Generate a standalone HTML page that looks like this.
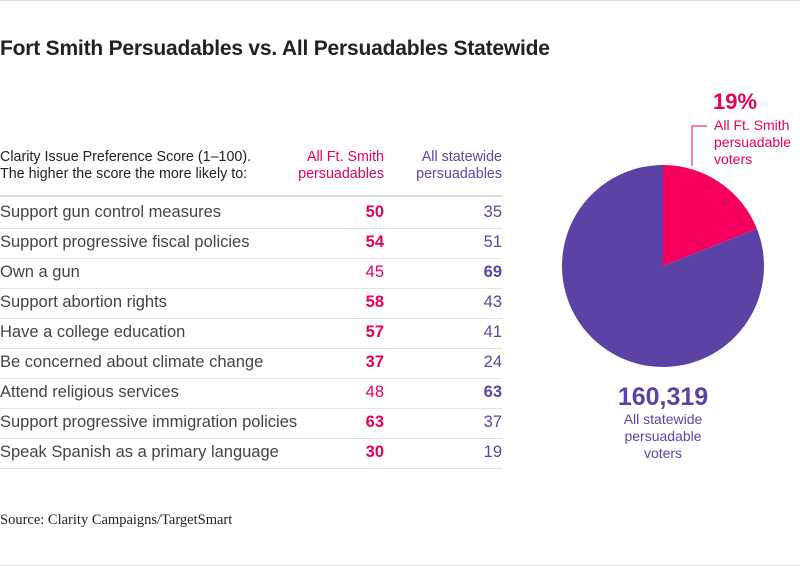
<!DOCTYPE html>
<html><head><meta charset="utf-8"><style>
body{margin:0;width:800px;height:566px;background:#fff;font-family:"Liberation Sans",sans-serif;position:relative;overflow:hidden}
.abs{position:absolute;white-space:nowrap}
.row{position:absolute;left:0;width:502px;height:30px;border-bottom:1px solid #e3e3e3;font-size:16.5px;color:#444}
.row span{position:absolute;top:5px}
.pk{color:#e5005c}.pu{color:#5b45a6}
</style></head><body>
<div class="abs" style="left:0;top:0;width:800px;height:1px;background:#ddd"></div>
<div class="abs" style="left:0;top:37px;font-size:21px;font-weight:bold;color:#222;letter-spacing:-0.2px">Fort Smith Persuadables vs. All Persuadables Statewide</div>
<div class="abs" style="left:0;top:149px;font-size:14.3px;line-height:17px;color:#222">Clarity Issue Preference Score (1–100).<br>The higher the score the more likely to:</div>
<div class="abs pk" style="right:416px;top:149px;font-size:14.3px;line-height:17px;text-align:right">All Ft. Smith<br>persuadables</div>
<div class="abs pu" style="right:298px;top:149px;font-size:14.3px;line-height:17px;text-align:right">All statewide<br>persuadables</div>
<div class="abs" style="left:0;top:195px;width:502px;height:2px;background:#ddd"></div>
<div id="rows"></div>
<div class="abs" style="left:0;top:512px;font-family:'Liberation Serif',serif;font-size:14.5px;color:#222">Source: Clarity Campaigns/TargetSmart</div>
<div class="abs" style="left:0;top:565px;width:800px;height:1px;background:#ddd"></div>
<svg id="pie" width="800" height="566" style="position:absolute;left:0;top:0"></svg>
<script>
const issues=["Support gun control measures","Support progressive fiscal policies","Own a gun","Support abortion rights","Have a college education","Be concerned about climate change","Attend religious services","Support progressive immigration policies","Speak Spanish as a primary language"];
const ftSmith=[50,54,45,58,57,37,48,63,30];
const statewide=[35,51,69,43,41,24,63,37,19];
const pieShare=[19,81];
const pieTotal="160,319";
const rows=document.getElementById('rows');
issues.forEach((t,i)=>{
 const r=document.createElement('div');r.className='row';r.style.top=(198+i*30)+'px';
 
 
 const a=ftSmith[i],b=statewide[i];
 r.innerHTML=`<span style="left:0">${t}</span><span class="pk" style="right:118px;font-weight:${a>b?'bold':'normal'}">${a}</span><span class="pu" style="right:0;font-weight:${b>a?'bold':'normal'}">${b}</span>`;
 rows.appendChild(r);
});
const svg=document.getElementById('pie');const NS='http://www.w3.org/2000/svg';
const cx=663,cy=266,R=101;
function pt(f){const a=f*2*Math.PI-Math.PI/2;return [cx+R*Math.cos(a),cy+R*Math.sin(a)];}
let acc=0;const cols=['#f5005f','#5b43a5'];
pieShare.forEach((v,i)=>{
 const f0=acc/100,f1=(acc+v)/100;acc+=v;
 const [x0,y0]=pt(f0),[x1,y1]=pt(f1);
 const p=document.createElementNS(NS,'path');
 p.setAttribute('d',`M${cx},${cy}L${x0},${y0}A${R},${R} 0 ${f1-f0>0.5?1:0} 1 ${x1},${y1}Z`);
 p.setAttribute('fill',cols[i]);
 
 
 svg.appendChild(p);
});
const ln=document.createElementNS(NS,'path');ln.setAttribute('d','M692,166V126H707');ln.setAttribute('stroke','#e5005c');ln.setAttribute('fill','none');


svg.appendChild(ln);
function txt(x,y,s,size,w,col,anchor,name){const t=document.createElementNS(NS,'text');t.setAttribute('x',x);t.setAttribute('y',y);t.setAttribute('font-size',size);t.setAttribute('font-weight',w);t.setAttribute('fill',col);t.setAttribute('text-anchor',anchor);t.setAttribute('font-family','Liberation Sans, sans-serif');t.textContent=s;


svg.appendChild(t);}
txt(713,109,pieShare[0]+'%',22,'bold','#e5005c','start','ftsmith-percent');
txt(714,130,'All Ft. Smith',14,'normal','#e5005c','start','ftsmith-label');
txt(714,147,'persuadable',14,'normal','#e5005c','start','ftsmith-label');
txt(714,164,'voters',14,'normal','#e5005c','start','ftsmith-label');
txt(663,405,pieTotal,25,'bold','#5b43a5','middle','statewide-total');
txt(663,424,'All statewide',14,'normal','#5b43a5','middle','statewide-label');
txt(663,441,'persuadable',14,'normal','#5b43a5','middle','statewide-label');
txt(663,458,'voters',14,'normal','#5b43a5','middle','statewide-label');
</script>
</body></html>
